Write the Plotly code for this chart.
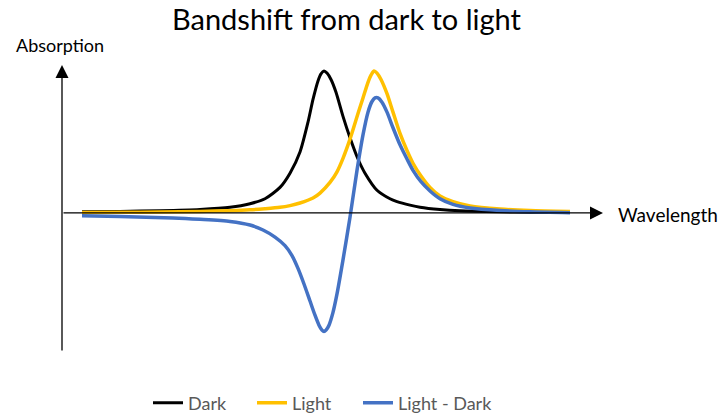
import plotly.graph_objects as go

# Wavelength positions (arbitrary units) and absorption values
dark_x = [82, 120, 160, 200, 230, 250, 265, 280, 290, 300, 308, 313, 318, 321, 324,
          327, 331, 336, 343, 350, 358, 365, 377, 390, 397, 410, 420, 440, 460, 500, 530, 570]
dark_y = [0.008, 0.011, 0.016, 0.025, 0.04, 0.065, 0.10, 0.18, 0.28, 0.43, 0.64, 0.80, 0.93, 0.98, 1.0,
          0.985, 0.94, 0.85, 0.68, 0.53, 0.38, 0.28, 0.16, 0.10, 0.08, 0.055, 0.04, 0.024, 0.015, 0.008,
          0.005, 0.003]

light_x = [82, 120, 160, 200, 230, 250, 265, 280, 290, 300, 313, 320, 330, 337, 343, 350, 358, 363, 368,
           371, 374, 377, 381, 387, 393, 400, 407, 413, 421, 430, 440, 453, 470, 500, 530, 570]
light_y = [0.003, 0.005, 0.007, 0.011, 0.016, 0.022, 0.03, 0.04, 0.052, 0.07, 0.105, 0.14, 0.215, 0.29,
           0.385, 0.52, 0.70, 0.81, 0.92, 0.97, 1.0, 0.985, 0.94, 0.84, 0.71, 0.56, 0.44, 0.35, 0.26, 0.18,
           0.12, 0.08, 0.05, 0.028, 0.017, 0.01]

diff_x = [82, 120, 173, 200, 230, 250, 263, 275, 285, 292, 298, 304, 310, 315, 319, 322, 324, 326, 329,
          333, 337, 343, 350, 357, 363, 368, 372, 375, 378, 382, 387, 393, 400, 407, 413, 421, 430, 440,
          453, 470, 500, 530, 570]
diff_y = [-0.02, -0.025, -0.035, -0.045, -0.06, -0.085, -0.12, -0.17, -0.23, -0.30, -0.39, -0.50, -0.62,
          -0.72, -0.79, -0.825, -0.835, -0.825, -0.79, -0.70, -0.57, -0.33, -0.03, 0.30, 0.55, 0.71, 0.785,
          0.81, 0.81, 0.78, 0.71, 0.60, 0.48, 0.38, 0.30, 0.22, 0.155, 0.10, 0.06, 0.035, 0.017, 0.008, 0.002]

series_names = ["Dark", "Light", "Light - Dark"]
series_colors = ["#000000", "#FFC000", "#4472C4"]

FONT = "Lato"

fig = go.Figure()
traces = [(dark_x, dark_y, 3, "legend"),
          (light_x, light_y, 3.5, "legend2"),
          (diff_x, diff_y, 3.5, "legend3")]
for (xs, ys, w, lg), name, col in zip(traces, series_names, series_colors):
    fig.add_trace(go.Scatter(x=xs, y=ys, name=name, mode="lines", legend=lg,
                             line=dict(color=col, width=w, shape="spline", smoothing=0.7),
                             hoverinfo="skip"))

X0, X1 = 62, 603
Y0, Y1 = -0.979, 1.042

annotations = [
    # y axis arrow
    dict(x=X0, y=Y1, ax=X0, ay=Y0, xref="x", yref="y", axref="x", ayref="y",
         showarrow=True, arrowhead=2, arrowsize=2, arrowwidth=1.3, arrowcolor="#000", text=""),
    # x axis arrow
    dict(x=X1, y=0, ax=X0, ay=0, xref="x", yref="y", axref="x", ayref="y",
         showarrow=True, arrowhead=2, arrowsize=2, arrowwidth=1.3, arrowcolor="#000", text=""),
    # band shift arrow
    dict(x=383, y=1.127, ax=308, ay=1.127, xref="x", yref="y", axref="x", ayref="y",
         showarrow=True, arrowhead=2, arrowsize=1.0, arrowwidth=4, arrowcolor="#000", text=""),
    dict(text="Bandshift from dark to light", x=(347 - 62) / 541, y=(352 - 19) / 287,
         xref="paper", yref="paper", showarrow=False, xanchor="center", yanchor="middle",
         font=dict(family=FONT, size=29, color="#000")),
    dict(text="Absorption", x=(60 - 62) / 541, y=(352 - 45) / 287,
         xref="paper", yref="paper", showarrow=False, xanchor="center", yanchor="middle",
         font=dict(family=FONT, size=18, color="#000")),
    dict(text="Wavelength", x=(668 - 62) / 541, y=(352 - 214) / 287,
         xref="paper", yref="paper", showarrow=False, xanchor="center", yanchor="middle",
         font=dict(family=FONT, size=19, color="#000")),
]


def legend_at(px):
    return dict(orientation="h", xref="container", yref="container",
                x=px / 721, xanchor="left", y=1 - 403 / 414, yanchor="middle",
                font=dict(family=FONT, size=18, color="#595959"),
                bgcolor="rgba(0,0,0,0)")


fig.update_layout(
    width=721, height=414,
    margin=dict(l=62, r=721 - 603, t=65, b=414 - 352, autoexpand=False),
    paper_bgcolor="white", plot_bgcolor="white",
    xaxis=dict(range=[X0, X1], visible=False, fixedrange=True),
    yaxis=dict(range=[Y0, Y1], visible=False, fixedrange=True),
    annotations=annotations,
    showlegend=True,
    legend=legend_at(148),
    legend2=legend_at(252),
    legend3=legend_at(358),
)

fig.write_html("out.html", post_script="document.body.style.margin='0';",
               config={"displayModeBar": False})
